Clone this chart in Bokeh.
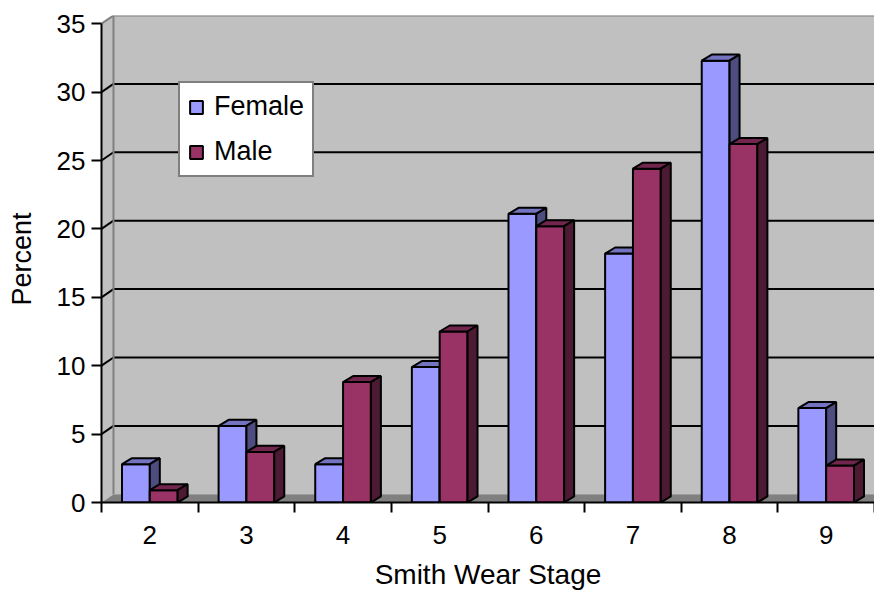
from bokeh.plotting import figure
from bokeh.models import Range1d, FixedTicker, Legend, LegendItem
from bokeh.embed import file_html
from bokeh.resources import INLINE

# ---- data ----
stages = [2, 3, 4, 5, 6, 7, 8, 9]
female = [2.8, 5.6, 2.8, 9.9, 21.1, 18.2, 32.3, 6.9]
male = [0.9, 3.7, 8.8, 12.5, 20.2, 24.4, 26.2, 2.7]
y_ticks = [0, 5, 10, 15, 20, 25, 30, 35]
boundaries = [1.5, 2.5, 3.5, 4.5, 5.5, 6.5, 7.5, 8.5, 9.5]

# ---- style / geometry constants ----
FONT = "Liberation Sans"
X0, X1 = 1.5, 9.5
YMAX = 35
DXW, DYW = 0.124, 0.6      # wall depth offset
DXB, DYB = 0.1035, 0.44    # bar depth offset
BW = 0.288                 # bar width

p = figure(width=874, height=594, output_backend="svg", toolbar_location=None,
           x_range=Range1d(X0, X1), y_range=Range1d(0, YMAX + DYW),
           min_border_left=101, min_border_right=0, min_border_top=15,
           min_border_bottom=92)
p.outline_line_color = None
p.background_fill_color = "white"
p.border_fill_color = "white"
p.xgrid.visible = False
p.ygrid.visible = False

# back wall
p.quad(left=[X0 + DXW], right=[X1], bottom=[DYW], top=[YMAX + DYW],
       fill_color="#C0C0C0", line_color=None)
# side wall
p.patch(x=[X0, X0 + DXW, X0 + DXW, X0], y=[0, DYW, YMAX + DYW, YMAX],
        fill_color="#C0C0C0", line_color=None)
# floor
p.patch(x=[X0, X0 + DXW, X1, X1], y=[0, DYW, DYW, 0],
        fill_color="#808080", line_color=None)

# gridlines on back wall (black) + slants on side wall
grid_vals = [v for v in y_ticks if 0 < v < YMAX]
p.segment(x0=[X0 + DXW] * len(grid_vals), y0=[v + DYW for v in grid_vals],
          x1=[X1] * len(grid_vals), y1=[v + DYW for v in grid_vals],
          line_color="black", line_width=2)
p.segment(x0=[X0] * len(grid_vals), y0=grid_vals,
          x1=[X0 + DXW] * len(grid_vals), y1=[v + DYW for v in grid_vals],
          line_color="black", line_width=2)
# wall edges (grey)
p.line(x=[X0, X0 + DXW, X1], y=[YMAX, YMAX + DYW, YMAX + DYW],
       line_color="#808080", line_width=2)
p.line(x=[X0 + DXW, X0 + DXW], y=[DYW, YMAX + DYW],
       line_color="#808080", line_width=2)


def bars(lefts, tops, c_front, c_top, c_side):
    r = p.quad(left=lefts, right=[l + BW for l in lefts], bottom=[0] * len(lefts),
               top=tops, fill_color=c_front, line_color="black", line_width=2)
    p.patches(xs=[[l, l + DXB, l + BW + DXB, l + BW] for l in lefts],
              ys=[[t, t + DYB, t + DYB, t] for t in tops],
              fill_color=c_top, line_color="black", line_width=2)
    p.patches(xs=[[l + BW, l + BW + DXB, l + BW + DXB, l + BW] for l in lefts],
              ys=[[0, DYB, t + DYB, t] for t in tops],
              fill_color=c_side, line_color="black", line_width=2)
    return r


rf = bars([s - BW for s in stages], female, "#9999FF", "#7373C0", "#4D4D80")
rm = bars([s for s in stages], male, "#993366", "#73264D", "#4D1A33")

# axes
ya = p.yaxis[0]
ya.ticker = FixedTicker(ticks=y_ticks)
ya.bounds = (0, YMAX)
ya.axis_line_width = 2
ya.major_tick_line_width = 2
ya.major_tick_out = 10
ya.major_tick_in = 0
ya.minor_tick_line_color = None
ya.major_label_standoff = 6
ya.major_label_text_font = FONT
ya.major_label_text_font_size = "26px"
ya.major_label_text_color = "black"
ya.axis_label = "Percent"
ya.axis_label_text_font = FONT
ya.axis_label_text_font_size = "27px"
ya.axis_label_text_font_style = "normal"
ya.axis_label_text_color = "black"
ya.axis_label_standoff = 17

xa = p.xaxis[0]
xa.ticker = FixedTicker(ticks=stages, minor_ticks=boundaries)
xa.axis_line_width = 2
xa.major_tick_line_color = None
xa.major_tick_out = 0
xa.major_tick_in = 0
xa.minor_tick_line_width = 2
xa.minor_tick_out = 10
xa.minor_tick_in = 0
xa.major_label_standoff = 13
xa.major_label_text_font = FONT
xa.major_label_text_font_size = "26px"
xa.major_label_text_color = "black"
xa.axis_label = "Smith Wear Stage"
xa.axis_label_text_font = FONT
xa.axis_label_text_font_size = "28px"
xa.axis_label_text_font_style = "normal"
xa.axis_label_text_color = "black"
xa.axis_label_standoff = 12

legend = Legend(items=[LegendItem(label="Female", renderers=[rf]),
                       LegendItem(label="Male", renderers=[rm])],
                location=(77, 325))
legend.border_line_color = "black"
legend.border_line_width = 2
legend.background_fill_color = "white"
legend.background_fill_alpha = 1
legend.label_text_font = FONT
legend.label_text_font_size = "27px"
legend.label_text_color = "black"
legend.glyph_width = 16
legend.glyph_height = 16
legend.label_standoff = 10
legend.padding = 8
legend.spacing = 14
legend.margin = 0
p.add_layout(legend, "center")

open("out.html", "w").write(file_html(p, INLINE))
